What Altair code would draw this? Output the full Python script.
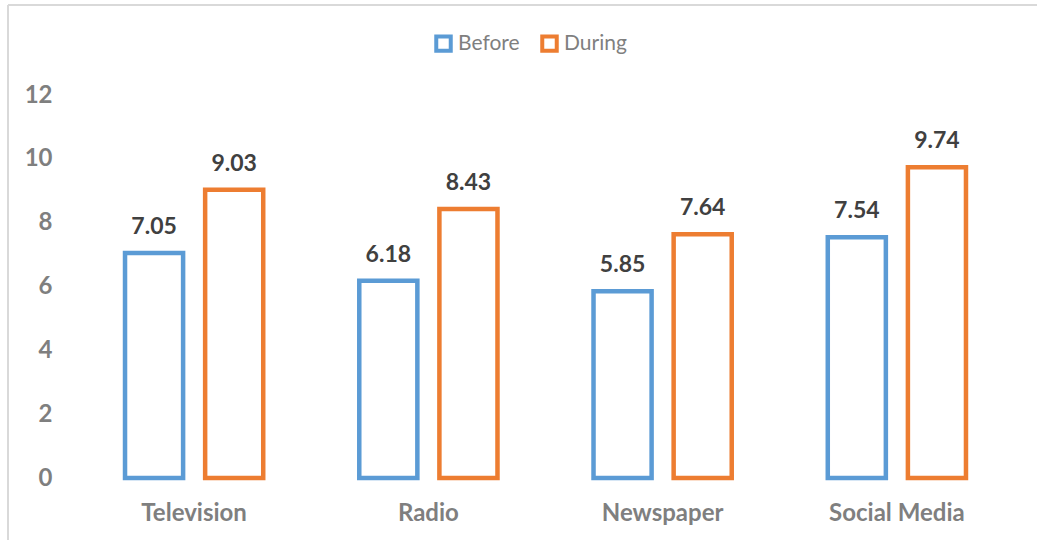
import altair as alt
import pandas as pd

categories = ["Television", "Radio", "Newspaper", "Social Media"]
before = [7.05, 6.18, 5.85, 7.54]
during = [9.03, 8.43, 7.64, 9.74]
series = ["Before", "During"]
colors = ["#5B9BD5", "#ED7D31"]

rows = []
for c, b, d in zip(categories, before, during):
    rows.append({"Category": c, "Series": "Before", "Value": b})
    rows.append({"Category": c, "Series": "During", "Value": d})
df = pd.DataFrame(rows)

FONT = "Lato"

base = alt.Chart(df).encode(
    x=alt.X("Category:N", sort=categories,
            scale=alt.Scale(paddingInner=0.41, paddingOuter=0.205),
            axis=alt.Axis(title=None, labelAngle=0, domain=False, ticks=False,
                          labelFont=FONT, labelFontSize=24, labelFontWeight="bold",
                          labelColor="#7F7F7F", labelPadding=23)),
    xOffset=alt.XOffset("Series:N", sort=series,
                        scale=alt.Scale(paddingInner=0.275, paddingOuter=0)),
    y=alt.Y("Value:Q", scale=alt.Scale(domain=[0, 12]),
            axis=alt.Axis(title=None, values=[0, 2, 4, 6, 8, 10, 12], grid=False,
                          domain=False, ticks=False, labelFont=FONT,
                          labelFontSize=24, labelFontWeight="bold",
                          labelColor="#7F7F7F", labelPadding=25)),
)

bars = base.mark_bar(fill="white", strokeWidth=4.5).encode(
    stroke=alt.Stroke("Series:N", sort=series,
                      scale=alt.Scale(domain=series, range=colors),
                      legend=alt.Legend(title=None, orient="none", direction="horizontal",
                                        legendX=356, legendY=-62, symbolType="square",
                                        symbolSize=210, symbolStrokeWidth=4,
                                        symbolFillColor="white",
                                        labelFont=FONT, labelFontSize=21,
                                        labelColor="#7F7F7F", columnPadding=14,
                                        labelOffset=4)),
)

labels = base.mark_text(dy=-19, baseline="alphabetic", font=FONT, fontSize=23,
                        fontWeight="bold", color="#404040").encode(
    text=alt.Text("Value:Q", format=".2f"))

border_left = alt.Chart(df).mark_rule(color="#D9D9D9", strokeWidth=1.5, clip=False).encode(
    x=alt.value(-69), y=alt.value(-90), y2=alt.value(460))
border_top = alt.Chart(df).mark_rule(color="#D9D9D9", strokeWidth=1.5, clip=False).encode(
    x=alt.value(-69), x2=alt.value(970), y=alt.value(-90))

chart = alt.layer(bars, labels, border_left, border_top).properties(
    width=937, height=383,
    background="white",
    autosize=alt.AutoSizeParams(type="none"),
    padding={"left": 77, "top": 95, "right": 23, "bottom": 62},
).configure_view(strokeWidth=0, stroke=None)

chart.save("out.html", embed_options={"renderer": "svg", "actions": False})
